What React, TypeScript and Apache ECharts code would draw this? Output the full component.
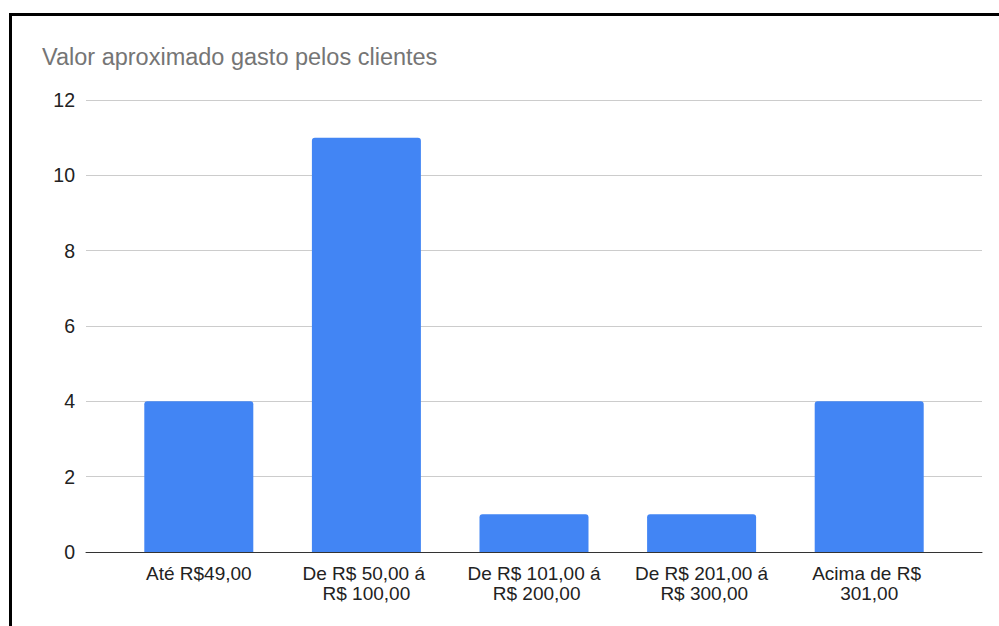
import React, { useEffect, useRef } from "react";
import * as echarts from "echarts";

const categories = [
  "Até R$49,00",
  "De R$ 50,00 á R$ 100,00",
  "De R$ 101,00 á R$ 200,00",
  "De R$ 201,00 á R$ 300,00",
  "Acima de R$ 301,00",
];
const values = [4, 11, 1, 1, 4];
const titleText = "Valor aproximado gasto pelos clientes";
const yMin = 0;
const yMax = 12;
const yInterval = 2;

const FONT = "'Liberation Sans', Arial, sans-serif";

export default function App() {
  const ref = useRef<HTMLDivElement>(null);
  useEffect(() => {
    if (!ref.current) return;
    const chart = echarts.init(ref.current, null, { renderer: "svg" });
    chart.setOption({
      animation: false,
      backgroundColor: "transparent",
      title: {
        text: titleText,
        left: 37,
        top: 40,
        textStyle: { fontFamily: FONT, fontSize: 23.5, fontWeight: "normal", color: "#757575" },
      },
      grid: [
        { left: 86, right: 17, top: 100, bottom: 74 },
        { left: 115, right: 46, top: 100, bottom: 74 },
      ],
      xAxis: [
        {
          type: "category",
          gridIndex: 0,
          data: categories,
          axisLine: { show: true, lineStyle: { color: "#333", width: 1 } },
          axisTick: { show: false },
          axisLabel: { show: false },
          splitLine: { show: false },
        },
        {
          type: "category",
          gridIndex: 1,
          data: categories,
          axisLine: { show: false },
          axisTick: { show: false },
          axisLabel: {
            show: true,
            interval: 0,
            margin: 11,
            fontFamily: FONT,
            fontSize: 19,
            lineHeight: 20,
            color: "#222",
            width: 145,
            overflow: "break",
          },
        },
      ],
      yAxis: [
        {
          type: "value",
          gridIndex: 0,
          min: yMin,
          max: yMax,
          interval: yInterval,
          axisLine: { show: false },
          axisTick: { show: false },
          axisLabel: { fontFamily: FONT, fontSize: 19.5, color: "#222", margin: 11 },
          splitLine: { lineStyle: { color: "#cccccc", width: 1 } },
        },
        {
          type: "value",
          gridIndex: 1,
          min: yMin,
          max: yMax,
          interval: yInterval,
          axisLine: { show: false },
          axisTick: { show: false },
          axisLabel: { show: false },
          splitLine: { show: false },
        },
      ],
      series: [
        {
          type: "bar",
          xAxisIndex: 1,
          yAxisIndex: 1,
          data: values,
          barWidth: 109,
          itemStyle: { color: "#4285f4", borderRadius: [3, 3, 0, 0] },
          z: 3,
        },
      ],
    });
    return () => chart.dispose();
  }, []);

  return (
    <div style={{ position: "fixed", left: 0, top: 0, width: 999, height: 626, overflow: "hidden", background: "#fff" }}>
      <div
        style={{
          position: "absolute",
          left: 9,
          top: 13,
          width: 1200,
          height: 800,
          border: "3px solid #000",
          boxSizing: "border-box",
        }}
      />
      <div ref={ref} style={{ position: "absolute", left: 0, top: 0, width: 999, height: 626 }} />
    </div>
  );
}
